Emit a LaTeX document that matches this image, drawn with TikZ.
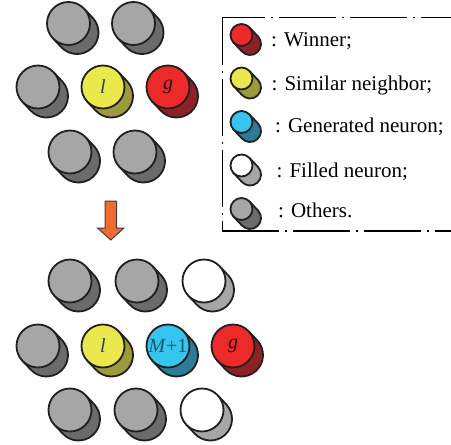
\documentclass[tikz,border=0pt]{standalone}
\usepackage{fontspec}
\setmainfont{Liberation Serif}
\begin{document}
\definecolor{grayF}{HTML}{A6A6A6}
\definecolor{grayB}{HTML}{6B6B6B}
\definecolor{yellowF}{HTML}{EBE84E}
\definecolor{yellowB}{HTML}{9C9A3B}
\definecolor{redF}{HTML}{EC2A2A}
\definecolor{redB}{HTML}{8C2226}
\definecolor{cyanF}{HTML}{36C5EE}
\definecolor{cyanB}{HTML}{2B7C99}
\definecolor{whiteB}{HTML}{A6A6A6}
\definecolor{rim}{HTML}{231F20}
\definecolor{arrowfill}{HTML}{F26A2E}
\definecolor{labl}{HTML}{1C4848}
\definecolor{labg}{HTML}{2A0A0A}
\definecolor{labm}{HTML}{17566A}
% A neuron: a short slanted cylinder, front face named #1
\newcommand{\neuron}[6]{%
  \begin{scope}[shift={#2}]
    \filldraw[cylbody, fill=#5] (-41.6:#3) -- ++(8.5,9)
      arc[start angle=-41.6, end angle=138.4, radius=#3] -- (138.4:#3) -- cycle;
    \node[cylface, fill=#4, minimum size={2*#3pt}] (#1) at (0,0) {#6};
  \end{scope}}
\begin{tikzpicture}[x=1pt, y=-1pt,
  cylbody/.style={draw=rim, line width=1.8pt, line join=round},
  cylface/.style={circle, draw=rim, line width=1.8pt, inner sep=0pt,
    font=\fontsize{20}{24}\selectfont},
  legtext/.style={anchor=base west, inner sep=0pt, font=\fontsize{21}{25}\selectfont},
  legline/.style={draw=black, line width=1.2pt,
    dash pattern=on 57pt off 6pt on 2pt off 6pt}]
\useasboundingbox (0,0) rectangle (451,445);

% ---- before: winner g and similar neighbour l
\neuron{a1}{(68.5,23.5)}{21.5}{grayF}{grayB}{}
\neuron{a2}{(133.5,23.5)}{21.5}{grayF}{grayB}{}
\neuron{a3}{(38,87)}{21.5}{grayF}{grayB}{}
\neuron{al}{(103,87)}{21.5}{yellowF}{yellowB}{\color{labl}\textit{l}}
\neuron{ag}{(168,87)}{21.5}{redF}{redB}{\color{labg}\textit{g}}
\neuron{a6}{(70,152)}{21.5}{grayF}{grayB}{}
\neuron{a7}{(135,152)}{21.5}{grayF}{grayB}{}

% ---- transition arrow
\filldraw[fill=arrowfill, draw=black!75, line width=1pt, line join=miter]
  (105,201) -- (116.5,201) -- (116.5,228) -- (124,228) -- (110.8,240)
  -- (97.5,228) -- (105,228) -- cycle;

% ---- after: generated neuron M+1 and filled neurons
\neuron{b1}{(70,281)}{21.5}{grayF}{grayB}{}
\neuron{b2}{(137,281)}{21.5}{grayF}{grayB}{}
\neuron{b3}{(204,281)}{21.5}{white}{whiteB}{}
\neuron{b4}{(38,346)}{21.5}{grayF}{grayB}{}
\neuron{bl}{(103,346)}{21.5}{yellowF}{yellowB}{\color{labl}\textit{l}}
\neuron{bm}{(168,346)}{21.5}{cyanF}{cyanB}{\color{labm}\textit{M}+1}
\neuron{bg}{(233,346)}{21.5}{redF}{redB}{\color{labg}\textit{g}}
\neuron{b8}{(70,410)}{21.5}{grayF}{grayB}{}
\neuron{b9}{(136,410)}{21.5}{grayF}{grayB}{}
\neuron{b10}{(202,410)}{21.5}{white}{whiteB}{}

% ---- legend
\coordinate (ltl) at (222.3,17.7);
\coordinate (lbl) at (222.3,231);
\coordinate (ltr) at (451,17.7);
\coordinate (lbr) at (451,231);
\draw[legline, dash phase=14pt] (ltl) -- (ltr);
\draw[legline] (lbl) -- (lbr);
\draw[legline, dash phase=10pt] (ltl) -- (lbl);

\neuron{k1}{(241.5,35)}{11}{redF}{redB}{}
\neuron{k2}{(241.5,78.5)}{11}{yellowF}{yellowB}{}
\neuron{k3}{(241.5,122)}{11}{cyanF}{cyanB}{}
\neuron{k4}{(241.5,165.5)}{11}{white}{whiteB}{}
\neuron{k5}{(241.5,209)}{11}{grayF}{grayB}{}
\node[legtext] (t1) at (271,46) {: Winner;};
\node[legtext] (t2) at (271.5,90) {: Similar neighbor;};
\node[legtext] (t3) at (275,132) {: Generated neuron;};
\node[legtext] (t4) at (276.5,177) {: Filled neuron;};
\node[legtext] (t5) at (278,217) {: Others.};
\end{tikzpicture}
\end{document}
